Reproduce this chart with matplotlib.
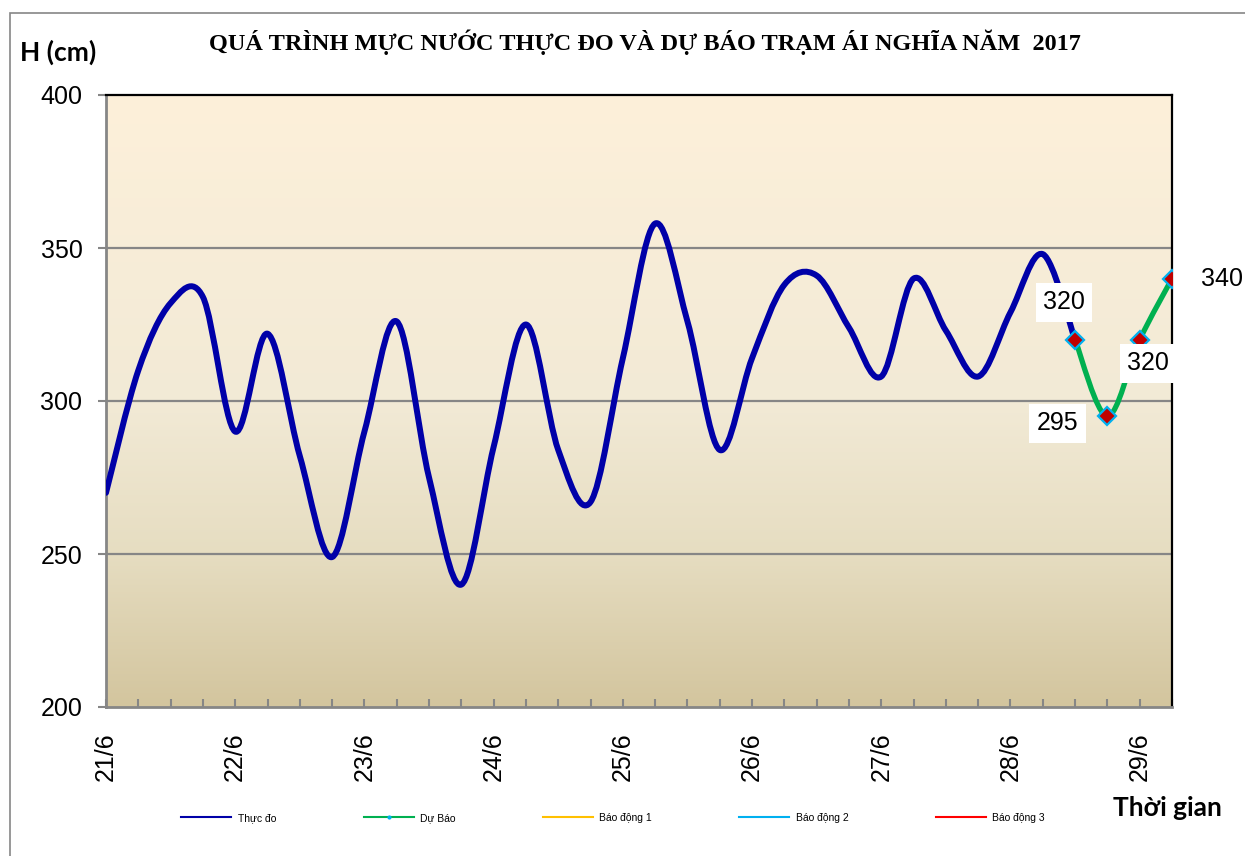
import numpy as np
import matplotlib
matplotlib.use("Agg")
import matplotlib.pyplot as plt
from matplotlib.path import Path
from matplotlib.patches import PathPatch, Rectangle
from matplotlib.lines import Line2D
from matplotlib.colors import LinearSegmentedColormap
from matplotlib.ticker import MultipleLocator

# --- data (6-hourly, from 21/6 00h)
day_labels = ["21/6", "22/6", "23/6", "24/6", "25/6", "26/6", "27/6", "28/6", "29/6"]
step_h = 6
obs = [270, 310, 332, 334, 290, 322, 282, 249,
       290, 326, 275, 240, 285, 325, 284, 267,
       314, 358, 326, 284, 314, 338, 341, 324,
       308, 340, 323, 308, 329, 348, 320]
fc_start = 30            # forecast starts at 28/6 12h
fc = [320, 295, 320, 340]
fc_offsets = [(-8, 27), (-36, -5), (6, -17), (36, 0)]   # label offsets, pt

BLUE = "#0000A8"
GREEN = "#00B050"
GRAY = "#868686"


def smooth_path(x, y):
    # Excel-style smoothed line: Catmull-Rom segments as cubic Beziers
    p = np.column_stack([x, y]).astype(float)
    ext = np.vstack([p[0], p, p[-1]])
    verts, codes = [p[0]], [Path.MOVETO]
    for i in range(len(p) - 1):
        a, b, c, d = ext[i], ext[i + 1], ext[i + 2], ext[i + 3]
        verts += [b + (c - a) / 6, c - (d - b) / 6, c]
        codes += [Path.CURVE4] * 3
    return Path(verts, codes)


fig = plt.figure(figsize=(12.45, 8.56), dpi=100)
ax = fig.add_axes([106 / 1245, 1 - 707 / 856, (1172 - 106) / 1245, (707 - 95) / 856])

# background gradient of the plot area
cmap = LinearSegmentedColormap.from_list(
    "bg", [(0, "#D3C59E"), (0.25, "#E6DDC1"), (0.5, "#F2EAD6"), (1, "#FDF0DA")])
ax.imshow(np.linspace(0, 1, 256)[::-1, None], extent=[0, 1, 0, 1],
          transform=ax.transAxes, cmap=cmap, aspect="auto", zorder=0)

t_obs = np.arange(len(obs)) * step_h / 24
t_fc = (fc_start + np.arange(len(fc))) * step_h / 24

for yv in (250, 300, 350):
    ax.axhline(yv, color=GRAY, lw=1.6, zorder=1)

ax.add_patch(PathPatch(smooth_path(t_obs, obs), fc="none", ec=BLUE,
                       lw=4.3, capstyle="round", joinstyle="round", zorder=3))
ax.add_patch(PathPatch(smooth_path(t_fc, fc), fc="none", ec=GREEN,
                       lw=3.8, capstyle="round", zorder=4))
ax.plot(t_fc, fc, ls="none", marker="D", ms=9, mfc="#C00000",
        mec="#00B0F0", mew=1.6, zorder=5)

for t, v, off in zip(t_fc, fc, fc_offsets):
    ax.annotate(f"{v}", (t, v), xytext=off, textcoords="offset points",
                ha="center", va="center", fontsize=18, family="Liberation Sans",
                bbox=dict(boxstyle="square,pad=0.3", fc="white", ec="none"),
                annotation_clip=False, zorder=6)

ax.set_xlim(0, (len(obs) + len(fc) - 2) * step_h / 24)
ax.set_ylim(200, 400)
ax.set_yticks([200, 250, 300, 350, 400])
ax.set_xticks(range(len(day_labels)))
ax.set_xticklabels(day_labels, rotation=90, family="Liberation Sans", fontsize=18)
ax.xaxis.set_minor_locator(MultipleLocator(0.25))
for lab in ax.get_yticklabels():
    lab.set_family("Liberation Sans")
    lab.set_fontsize(18)
ax.tick_params(axis="x", which="both", direction="in", length=6, width=1.5,
               color=GRAY, pad=18)
ax.tick_params(axis="y", direction="out", length=6, width=1.5, color=GRAY, pad=11)

for s in ("left", "bottom"):
    ax.spines[s].set_color(GRAY)
    ax.spines[s].set_linewidth(2)
for s in ("top", "right"):
    ax.spines[s].set_color("black")
    ax.spines[s].set_linewidth(1.6)

fig.text(645 / 1245, 1 - 42 / 856,
         "QUÁ TRÌNH MỰC NƯỚC THỰC ĐO VÀ DỰ BÁO TRẠM ÁI NGHĨA NĂM  2017",
         ha="center", va="center", family="Liberation Serif",
         fontweight="bold", fontsize=17.5)
fig.text(20 / 1245, 1 - 52 / 856, "H (cm)", ha="left", va="center",
         family="Lato", fontweight="bold", fontsize=19)
fig.text(1222 / 1245, 1 - 808 / 856, "Thời gian", ha="right", va="center",
         family="Lato", fontweight="bold", fontsize=19)

handles = [
    Line2D([], [], color=BLUE, lw=1.5),
    Line2D([], [], color=GREEN, lw=1.5, marker="o", ms=2, mfc="#00B0F0", mec="#00B0F0"),
    Line2D([], [], color="#FFC000", lw=1.5),
    Line2D([], [], color="#00B0F0", lw=1.5),
    Line2D([], [], color="#FF0000", lw=1.5),
]
names = ["Thực đo", "Dự Báo", "Báo động 1", "Báo động 2", "Báo động 3"]
fig.legend(handles, names, loc="center", bbox_to_anchor=(613 / 1245, 1 - 818 / 856),
           ncol=5, frameon=False, prop={"family": "Liberation Sans", "size": 7.5},
           handlelength=4.8, handletextpad=0.6, columnspacing=8.4)

fig.add_artist(Rectangle((10 / 1245, -0.1), 1.2, 1 - 13 / 856 + 0.1,
                         transform=fig.transFigure, fill=False, ec=GRAY, lw=1.2))

fig.savefig("out.png", dpi=100)
